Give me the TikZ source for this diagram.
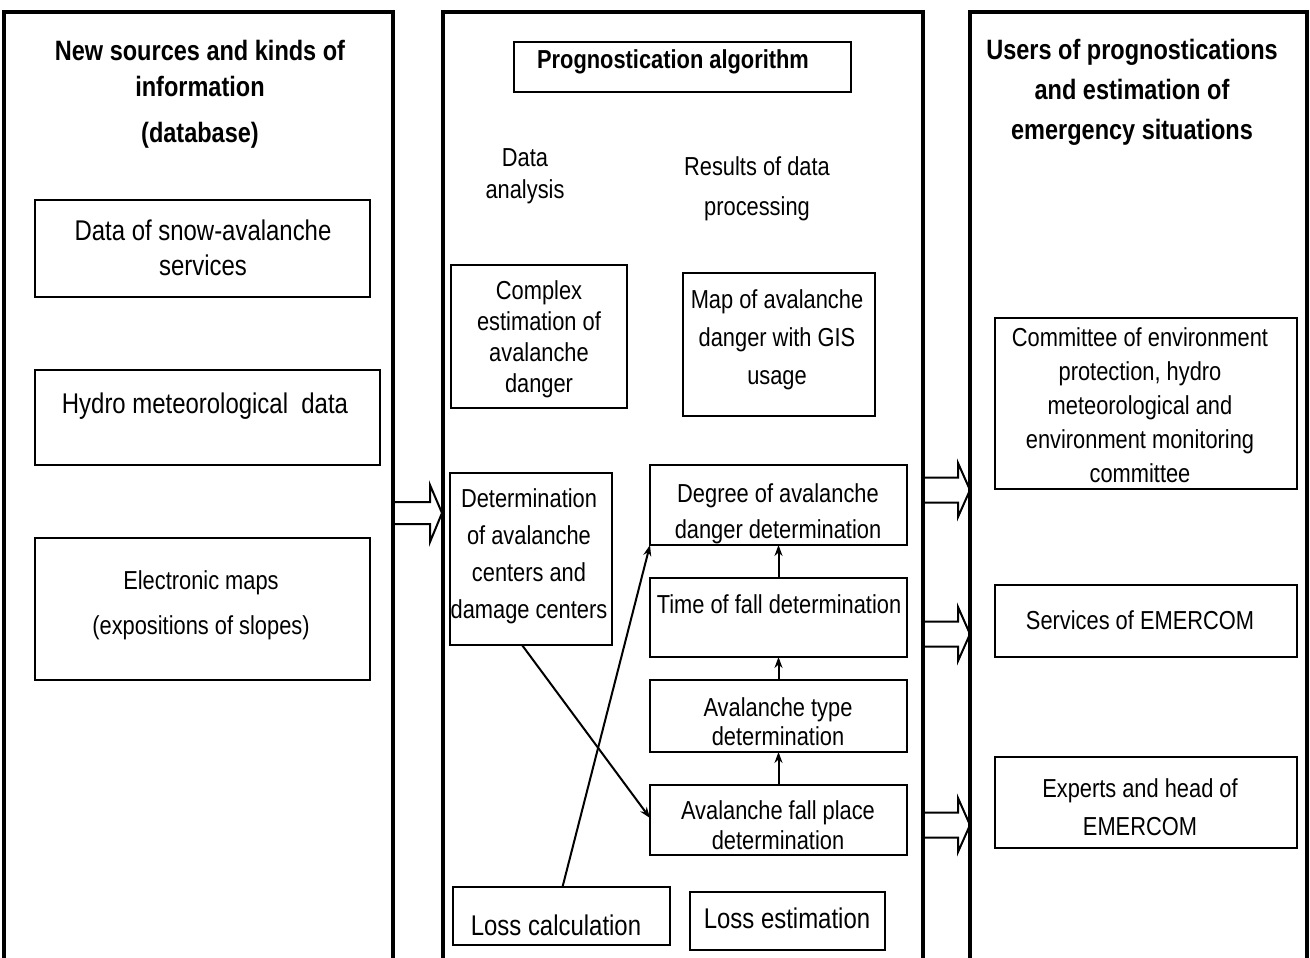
\documentclass[tikz,border=0pt]{standalone}
\usepackage{fontspec}
\setmainfont{Liberation Sans}[FakeStretch=0.84]
\usetikzlibrary{arrows.meta}
\begin{document}
\begin{tikzpicture}[x=1pt,y=-1pt,
  col/.style={draw,line width=4pt,anchor=north west,inner sep=0pt,outer sep=0pt},
  box/.style={draw,line width=2pt,inner sep=0pt,outer sep=0pt},
  txt/.style={align=center,inner sep=0pt,font=\fontsize{26}{#1}\selectfont},
  bigtxt/.style={align=center,inner sep=0pt,font=\fontsize{28.5}{#1}\selectfont},
  hdr/.style={align=center,inner sep=0pt,font=\fontsize{28}{#1}\selectfont\bfseries},
  flow/.style={line width=2pt,-{Stealth[length=11pt,width=8pt]}},
  hollow/.style={draw,line width=2pt,line join=miter}]
\useasboundingbox (0,0) rectangle (1310,958);
\clip (0,0) rectangle (1310,958);

% hollow block arrows
\draw[hollow] (393,502) -- (430,502) -- (430,485) -- (442,513) -- (430,542) -- (430,524) -- (393,524);
\foreach \c in {490,634,825}{
  \draw[hollow] (923,\c-12.5) -- (958,\c-12.5) -- (958,\c-27) -- (970,\c) -- (958,\c+27) -- (958,\c+12.5) -- (923,\c+12.5);
}

% columns
\node[col,minimum width=389,minimum height=1000] (leftcol) at (4,12) {};
\node[col,minimum width=480,minimum height=1000] (midcol) at (443,12) {};
\node[col,minimum width=337,minimum height=1000] (rightcol) at (970,12) {};

% left column
\node[hdr=36] (lhead1) at (200,68) {New sources and kinds of\\information};
\node[hdr=36] (lhead2) at (200,135) {(database)};
\node[box,minimum width=335,minimum height=97] (snow) at (202.5,248.5) {};
\node[bigtxt=35] (snowt) at (203,248) {Data of snow-avalanche\\services};
\node[box,minimum width=345,minimum height=95] (hydro) at (207.5,417.5) {};
\node[bigtxt=35] (hydrot) at (205,406) {Hydro meteorological~ data};
\node[box,minimum width=335,minimum height=142] (maps) at (202.5,609) {};
\node[txt=45] (mapst) at (201,605) {Electronic maps\\(expositions of slopes)};

% middle column
\node[box,minimum width=337,minimum height=50] (prog) at (682.5,67) {};
\node[hdr=30,font=\fontsize{26}{30}\selectfont\bfseries] (progt) at (673,62) {Prognostication algorithm};
\node[txt=32] (anal) at (525,176) {Data\\analysis};
\node[txt=40] (res) at (757,189) {Results of data\\processing};
\node[box,minimum width=176,minimum height=143] (complex) at (539,336.5) {};
\node[txt=31] (complext) at (539,339.5) {Complex\\estimation of\\avalanche\\danger};
\node[box,minimum width=192,minimum height=143] (gis) at (779,344.5) {};
\node[txt=38] (gist) at (777,340) {Map of avalanche\\danger with GIS\\usage};
\node[box,minimum width=162,minimum height=172] (determ) at (531,559) {};
\node[txt=37] (determt) at (529,556) {Determination\\of avalanche\\centers and\\damage centers};
\node[box,minimum width=257,minimum height=80] (degree) at (778.5,505) {};
\node[txt=36] (degreet) at (778,514) {Degree of avalanche\\danger determination};
\node[box,minimum width=257,minimum height=79] (time) at (778.5,617.5) {};
\node[txt=30] (timet) at (779,604) {Time of fall determination};
\node[box,minimum width=257,minimum height=72] (type) at (778.5,716) {};
\node[txt=29] (typet) at (778,722) {Avalanche type\\determination};
\node[box,minimum width=257,minimum height=70] (place) at (778.5,820) {};
\node[txt=30] (placet) at (778,825) {Avalanche fall place\\determination};
\node[box,minimum width=217,minimum height=58] (losscalc) at (561.5,916) {};
\node[bigtxt=30] (losscalct) at (556,925) {Loss calculation};
\node[box,minimum width=195,minimum height=58] (lossest) at (787.5,921) {};
\node[bigtxt=30] (lossestt) at (787,918) {Loss estimation};

\draw[flow] (time.north) -- (degree.south);
\draw[flow] (type.north) -- (time.south);
\draw[flow] (place.north) -- (type.south);
\draw[flow] ([xshift=1pt]losscalc.north) -- (degree.south west);
\draw[flow] ([xshift=-9pt]determ.south) -- ([yshift=2pt]place.west);

% right column
\node[hdr=40] (rhead) at (1132,92) {Users of prognostications\\and estimation of\\emergency situations};
\node[box,minimum width=302,minimum height=171] (committee) at (1146,403.5) {};
\node[txt=34] (committeet) at (1140,405) {Committee of environment\\protection, hydro\\meteorological and\\environment monitoring\\committee};
\node[box,minimum width=302,minimum height=72] (services) at (1146,621) {};
\node[txt=30] (servicest) at (1140,620) {Services of EMERCOM};
\node[box,minimum width=302,minimum height=91] (experts) at (1146,802.5) {};
\node[txt=38] (expertst) at (1140,807) {Experts and head of\\EMERCOM};
\end{tikzpicture}
\end{document}
